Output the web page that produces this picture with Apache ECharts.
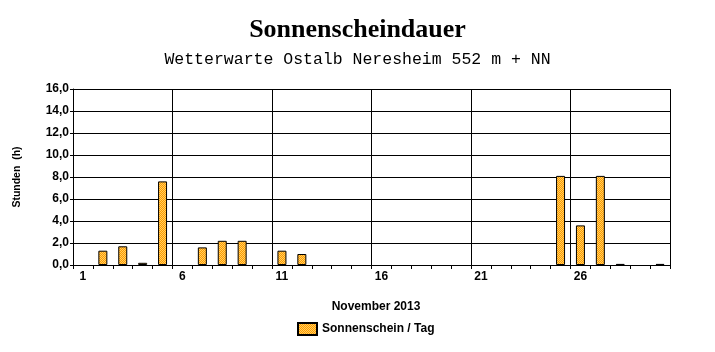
<!DOCTYPE html>
<html><head><meta charset="utf-8">
<script src="https://cdn.jsdelivr.net/npm/echarts@6/dist/echarts.min.js"></script>
<style>html,body{margin:0;padding:0;background:#fff}#c{width:715px;height:352px}</style>
</head><body><div id="c"></div>
<script>
const days = Array.from({length:30},(_, i)=>String(i+1));
const sunshine = [0,1.3,1.7,0.2,7.6,0,1.6,2.2,2.2,0,1.3,1.0,0,0,0,0,0,0,0,0,0,0,0,0,8.1,3.6,8.1,0.1,0,0.1];
const yTicks = [0,2,4,6,8,10,12,14,16];

const pc = document.createElement('canvas');
pc.width = 2; pc.height = 2;
const g = pc.getContext('2d');
g.fillStyle = '#FF9900'; g.fillRect(0,0,2,2);
g.fillStyle = '#FFD060'; g.fillRect(0,0,1,1); g.fillRect(1,1,1,1);

const chart = echarts.init(document.getElementById('c'), null, {renderer:'canvas'});
chart.setOption({
  animation:false,
  backgroundColor:'#fff',
  title:[
    {text:'Sonnenscheindauer', left:'center', top:12, textStyle:{fontFamily:'Liberation Serif', fontWeight:'bold', fontSize:26, color:'#000'}},
    {text:'Wetterwarte Ostalb Neresheim 552 m + NN', left:'center', top:46, textStyle:{fontFamily:'Liberation Mono', fontWeight:'normal', fontSize:16.5, color:'#000'}},
    {text:'November 2013', left:371, textAlign:'center', top:296, textStyle:{fontFamily:'Liberation Sans', fontWeight:'bold', fontSize:12, color:'#000'}}
  ],
  legend:{data:[{name:'Sonnenschein / Tag', icon:'rect'}], left:297, top:322, padding:0, itemWidth:19, itemHeight:12, itemGap:5,
    textStyle:{fontFamily:'Liberation Sans', fontWeight:'bold', fontSize:12, color:'#000'}},
  grid:{left:73, right:45, top:89, bottom:87},
  xAxis:{type:'category', data:days, boundaryGap:true,
    axisLine:{lineStyle:{color:'#000', width:1}},
    axisTick:{show:true, interval:0, length:4, lineStyle:{color:'#000'}},
    axisLabel:{interval:4, color:'#000', fontFamily:'Liberation Sans', fontWeight:'bold', fontSize:12, margin:6},
    splitLine:{show:true, interval:function(i){return i%5===0 && i>0;}, lineStyle:{color:'#000', width:1}}
  },
  yAxis:{type:'value', min:0, max:16, interval:2,
    name:'Stunden  (h)', nameLocation:'middle', nameGap:50, nameRotate:90,
    nameTextStyle:{fontFamily:'Liberation Sans', fontWeight:'bold', fontSize:10.5, color:'#000'},
    axisLine:{show:true, lineStyle:{color:'#000'}},
    axisTick:{show:true, length:3, lineStyle:{color:'#000'}},
    axisLabel:{color:'#000', fontFamily:'Liberation Sans', fontWeight:'bold', fontSize:12, margin:4,
      formatter:function(v){return yTicks.indexOf(v)>=0 ? v.toFixed(1).replace('.',',') : '';}},
    splitLine:{show:true, lineStyle:{color:'#000', width:1}}
  },
  series:[{name:'Sonnenschein / Tag', type:'bar', data:sunshine.map(v => v === 0 ? '-' : v), barWidth:9,
    itemStyle:{color:{image:pc, repeat:'repeat'}, borderColor:'#000', borderWidth:1}}]
});
</script></body></html>
